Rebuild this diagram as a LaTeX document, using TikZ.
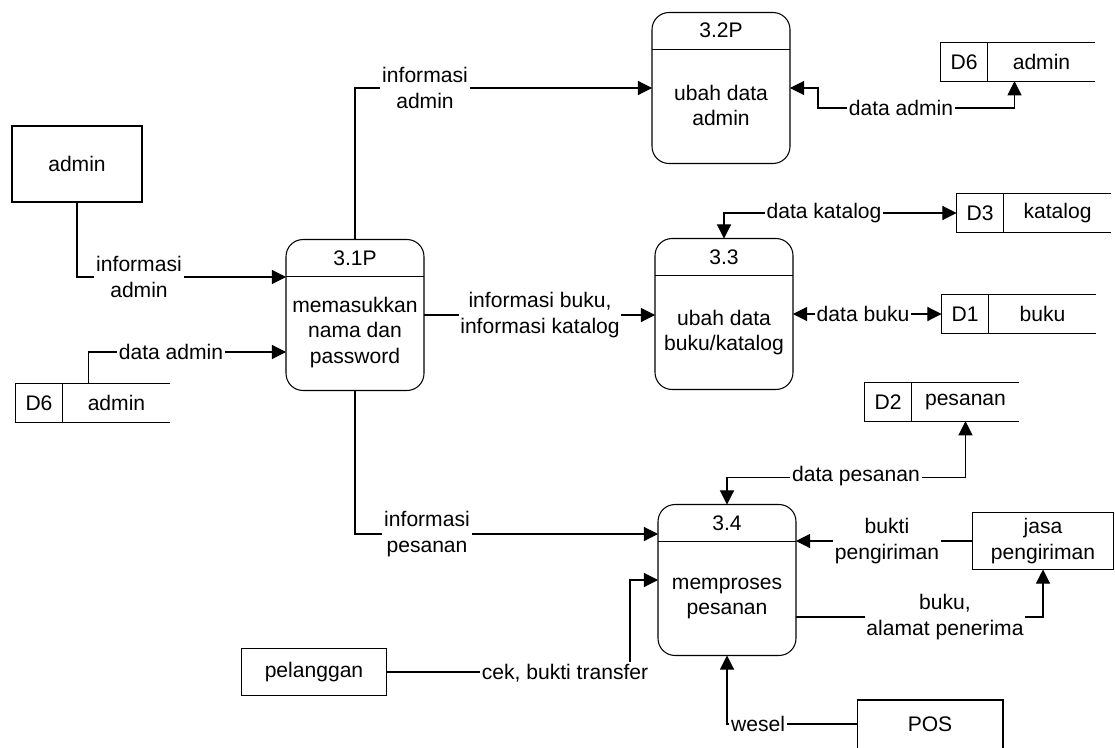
\documentclass[tikz,border=0pt]{standalone}
\usepackage{fontspec}
\setmainfont{Liberation Sans}
\usetikzlibrary{arrows.meta,positioning,calc}

\begin{document}
\begin{tikzpicture}[x=0.02cm,y=-0.02cm,
        font=\fontsize{12}{14.6}\selectfont,
        line width=0.6pt,
        proc/.style={draw,rounded corners=0.34cm,minimum width=2.76cm,minimum height=3.02cm,outer sep=0pt},
        ext/.style={draw,align=center,outer sep=0pt},
        storeid/.style={draw,minimum width=0.94cm,minimum height=0.77cm,outer sep=0pt},
        storename/.style={minimum width=2.16cm,minimum height=0.77cm,outer sep=0pt},
        flow/.style={-{Triangle[length=8pt,width=8pt]}},
        bflow/.style={{Triangle[length=8pt,width=8pt]}-{Triangle[length=8pt,width=8pt]}},
        lbl/.style={fill=white,align=center,inner sep=1pt}]
        \useasboundingbox (0,0) rectangle (1115,747);

        % proses
        \node[proc] (p31) at (355,315) {};
        \node (n31) at ($(p31.north)+(0,19)$) {3.1P};
        \node[align=center] (t31) at ($(p31.north)+(0,93)$) {memasukkan\\nama dan\\password};

        \node[proc] (p32) at (721,88) {};
        \node (n32) at ($(p32.north)+(0,18)$) {3.2P};
        \node[align=center] (t32) at ($(p32.north)+(0,93)$) {ubah data\\admin};

        \node[proc] (p33) at (724,314) {};
        \node (n33) at ($(p33.north)+(0,19)$) {3.3};
        \node[align=center] (t33) at ($(p33.north)+(0,94)$) {ubah data\\buku/katalog};

        \node[proc] (p34) at (727,580) {};
        \node (n34) at ($(p34.north)+(0,19)$) {3.4};
        \node[align=center] (t34) at ($(p34.north)+(0,94)$) {memproses\\pesanan};

        \foreach \p in {p31,p32,p33,p34}
            \draw[line width=0.9pt] ($(\p.north west)+(0,37)$) -- ($(\p.north east)+(0,37)$);

        % entitas
        \node[ext,minimum width=2.6cm,minimum height=1.52cm] (adm) at (77,164) {admin};
        \node[ext,minimum width=2.9cm,minimum height=0.94cm] (pel) at (314,672) {pelanggan};
        \node[ext,minimum width=2.82cm,minimum height=0.98cm] (jasa) at (1043,541) {jasa\\pengiriman};
        \node[minimum width=2.92cm,minimum height=0.96cm,outer sep=0pt] (posbox) at (930,724) {POS};
        \draw (posbox.south west) -- (posbox.north west) -- (posbox.north east) -- (posbox.south east);

        % data store
        \node[storeid] (d6a) at (39,403) {D6};
        \node[storename,right=0pt of d6a] (d6aname) {admin};
        \node[storeid] (d6b) at (964,62) {D6};
        \node[storename,right=0pt of d6b] (d6bname) {admin};
        \node[storeid] (d3) at (980,213) {D3};
        \node[storename,right=0pt of d3] (d3name) {katalog};
        \node[storeid] (d1) at (965,314) {D1};
        \node[storename,right=0pt of d1] (d1name) {buku};
        \node[storeid] (d2) at (888,402) {D2};
        \node[storename,right=0pt of d2] (d2name) {pesanan};
        \foreach \s in {d6a,d6b,d3,d1,d2} {
            \draw (\s.north east) -- (\s name.north east);
            \draw (\s.south east) -- (\s name.south east);
        }

        % aliran
        \draw[flow] (adm.south) |- ($(p31.west)+(0,-38)$);
        \draw[flow] ($(d6aname.north west)+(26,0)$) |- ($(p31.west)+(0,37)$);
        \draw[flow] (p31.north) |- (p32.west);
        \draw[flow] (p31.east) -- (p31.east -| p33.west);
        \draw[flow] (p31.south) |- ($(p34.west)+(0,-46)$);
        \draw[bflow] (p32.east) -| ++(28,20) -| ($(d6bname.south west)+(27,0)$);
        \draw[bflow] (p33.north) |- (d3.west);
        \draw[bflow] (p33.east |- d1.west) -- (d1.west);
        \draw[bflow] (p34.north) -- ++(0,-27) -| (d2name.south);
        \draw[flow] (jasa.west) -- (jasa.west -| p34.east);
        \draw[flow] ($(p34.east)+(0,37)$) -| (jasa.south);
        \draw[flow] (pel.east) -| ($(p34.west)+(-28,0)$) -- (p34.west);
        \draw[flow] (posbox.west) -| (p34.south);

        % label
        \node[lbl] (l1) at (139,277) {informasi\\admin};
        \node[lbl] (l2) at (171,352) {data admin};
        \node[lbl] (l3) at (425,88) {informasi\\admin};
        \node[lbl] (l4) at (540,315) {informasi buku,\\informasi katalog};
        \node[lbl] (l5) at (427,534) {informasi\\pesanan};
        \node[lbl] (l6) at (901,108) {data admin};
        \node[lbl] (l7) at (824,213) {data katalog};
        \node[lbl] (l8) at (863,314) {data buku};
        \node[lbl] (l9) at (856,476) {data pesanan};
        \node[lbl] (l10) at (887,541) {bukti\\pengiriman};
        \node[lbl] (l11) at (945,617) {buku,\\alamat penerima};
        \node[lbl] (l12) at (565,673) {cek, bukti transfer};
        \node[lbl] (l13) at (758,724) {wesel};
    \end{tikzpicture}
\end{document}
